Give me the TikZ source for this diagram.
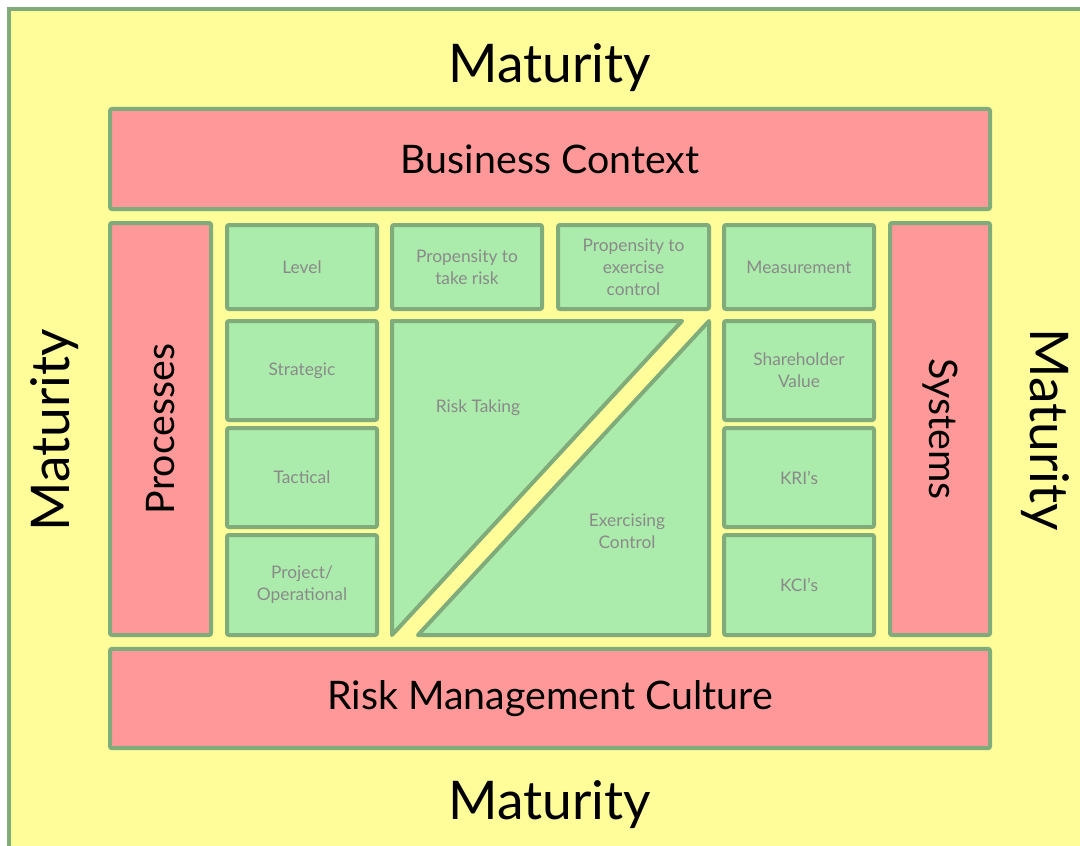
\documentclass[tikz,border=0pt]{standalone}
\usepackage{fontspec}
\setmainfont{Lato}
\usepackage{tikz}

\definecolor{matyellow}{RGB}{255,253,153}
\definecolor{ctxred}{RGB}{255,153,153}
\definecolor{cellgreen}{RGB}{171,235,171}
\definecolor{edgegreen}{RGB}{127,172,122}
\definecolor{cellgray}{RGB}{138,138,138}

\begin{document}
\begin{tikzpicture}[x=0.75pt,y=0.75pt,yscale=-1,xscale=1,
  redbox/.style={draw=edgegreen,fill=ctxred,line width=3pt,rounded corners=1.5pt,inner sep=0pt},
  greenbox/.style={draw=edgegreen,fill=cellgreen,line width=3pt,rounded corners=1.5pt,inner sep=0pt,
    minimum width=112.5pt,text=cellgray,align=center,font=\fontsize{13}{16.5}\selectfont},
  bigtxt/.style={font=\fontsize{29.5}{32}\selectfont},
  maturity/.style={inner sep=0pt,font=\fontsize{40}{42}\selectfont},
  celltxt/.style={inner sep=0pt,text=cellgray,align=center,font=\fontsize{13}{16.5}\selectfont}]
\useasboundingbox (0,0) rectangle (1080,845);

%Outer frame
\draw [draw=edgegreen,fill=matyellow,line width=3pt] (9,9) rectangle (1100,870);

% Maturity labels
\node [maturity] (mattop) at (550,68) {Maturity};
\node [maturity] (matbot) at (550,805) {Maturity};
\node [maturity,rotate=90] (matleft) at (55,430) {Maturity};
\node [maturity,rotate=-90] (matright) at (1045,430) {Maturity};

% Red frame boxes
\node [redbox,bigtxt,minimum width=660pt,minimum height=75pt] (context) at (550,159) {Business Context};
\node [redbox,bigtxt,minimum width=660pt,minimum height=74.5pt] (culture) at (550,698.5) {Risk Management Culture};
\node [redbox,minimum width=75.75pt,minimum height=309pt] (processes) at (160.5,429) {};
\node [bigtxt,rotate=90] (proclabel) at (processes.center) {Processes};
\node [redbox,minimum width=75pt,minimum height=309pt] (systems) at (940,429) {};
\node [bigtxt,rotate=-90] (syslabel) at (systems.center) {Systems};

% Top row
\node [greenbox,minimum height=63pt] (level) at (302,267) {Level};
\node [greenbox,minimum height=63pt] (takerisk) at (467,267) {Propensity to\\take risk};
\node [greenbox,minimum height=63pt,minimum width=113.25pt] (excontrol) at (633.5,267) {Propensity to\\exercise\\control};
\node [greenbox,minimum height=63pt] (measure) at (799,267) {Measurement};

% Left column
\node [greenbox,minimum height=74.25pt] (strategic) at (302,370.5) {Strategic};
\node [greenbox,minimum height=74.25pt] (tactical) at (302,477.5) {Tactical};
\node [greenbox,minimum height=75pt] (project) at (302,585) {Project/\\Operational};

% Right column
\node [greenbox,minimum height=74.25pt] (shvalue) at (799,370.5) {Shareholder\\Value};
\node [greenbox,minimum height=74.25pt] (kri) at (799,477.5) {KRI’s};
\node [greenbox,minimum height=75pt] (kci) at (799,585) {KCI’s};

% Triangles
\draw [draw=edgegreen,fill=cellgreen,line width=3pt,line join=round] (392,321) -- (682,321) -- (392,635) -- cycle;
\draw [draw=edgegreen,fill=cellgreen,line width=3pt,line join=round] (709,321) -- (709,635) -- (418,635) -- cycle;

% Text Node
\node [celltxt] (risktaking) at (478,408) {Risk Taking};
% Text Node
\node [celltxt] (exercising) at (627,531) {Exercising\\Control};

\end{tikzpicture}
\end{document}
